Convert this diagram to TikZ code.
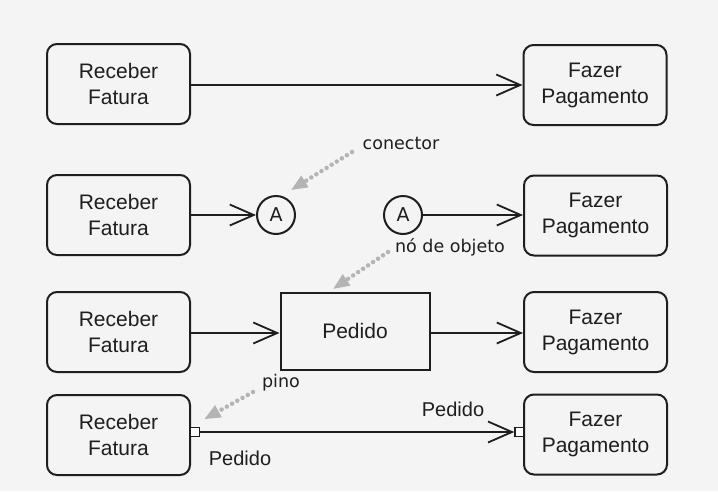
\documentclass[tikz,border=0pt]{standalone}
\usepackage{fontspec}
\setmainfont{Liberation Sans}
\newfontfamily\comic{DejaVu Sans}
\usetikzlibrary{arrows.meta}
\definecolor{bg}{RGB}{244,244,244}
\definecolor{hint}{RGB}{180,180,180}
\definecolor{ink}{RGB}{30,30,30}
\begin{document}
\begin{tikzpicture}[x=1pt,y=-1pt,
  act/.style={draw=ink, line width=2pt, rounded corners=10pt, minimum width=143pt,
    minimum height=80pt, inner sep=0pt, align=center, text=ink,
    font=\fontsize{21}{26}\selectfont},
  objbox/.style={draw=ink, line width=2pt, minimum width=149pt, minimum height=77pt,
    inner sep=0pt, text=ink, font=\fontsize{21}{26}\selectfont},
  conn/.style={circle, draw=ink, line width=2pt, minimum size=38pt, inner sep=0pt,
    text=ink, font=\comic\fontsize{19}{20}\selectfont},
  pin/.style={draw=ink, fill=white, line width=1.5pt, minimum size=9pt, inner sep=0pt},
  flow/.style={draw=ink, line width=1.8pt,
    -{Straight Barb[length=24pt,width=21pt,line width=1.8pt]}},
  hintlbl/.style={text=ink, font=\comic\fontsize{17.5}{19}\selectfont, inner sep=0pt},
  plain/.style={text=ink, font=\fontsize{20}{24}\selectfont, inner sep=0pt},
  hintarrow/.style={draw=hint, line width=4.5pt, line cap=round,
    dash pattern=on 0pt off 6pt, shorten >=4pt,
    -{Triangle[length=16pt,width=14pt,fill=hint,line width=0pt]}}
]
\fill[bg] (0,0) rectangle (718,491);
\useasboundingbox (0,0) rectangle (718,491);

% row 1
\node[act] (r1) at (118.5,84) {Receber\\Fatura};
\node[act] (f1) at (595,85) {Fazer\\Pagamento};
\draw[flow] (r1.east |- 0,85) -- (f1.west |- 0,85);

% row 2
\node[act] (r2) at (118.5,215) {Receber\\Fatura};
\node[act] (f2) at (595.5,215.5) {Fazer\\Pagamento};
\node[conn] (a1) at (276,215) {A};
\node[conn] (a2) at (403,215) {A};
\draw[flow] (r2.east |- a1) -- (a1);
\draw[flow] (a2) -- (f2.west |- a2);

% row 3
\node[act] (r3) at (118.5,332) {Receber\\Fatura};
\node[objbox] (ped) at (355,331) {Pedido};
\node[act] (f3) at (595.5,332) {Fazer\\Pagamento};
\draw[flow] (r3.east |- 0,333) -- (ped.west |- 0,333);
\draw[flow] (ped.east |- 0,333) -- (f3.west |- 0,333);

% row 4
\node[act] (r4) at (118.5,435) {Receber\\Fatura};
\node[act] (f4) at (595.5,434.5) {Fazer\\Pagamento};
\node[pin] (p1) at (195,432) {};
\node[pin] (p2) at (519.5,432) {};
\draw[flow] (p1) -- (p2);
\node[plain] (lp2) at (453,409) {Pedido};
\node[plain] (lp1) at (240,458) {Pedido};

% hint labels
\node[hintlbl] (lcon) at (401,143) {conector};
\node[hintlbl] (lobj) at (450,247) {nó de objeto};
\node[hintlbl] (lpin) at (281,383) {pino};
\coordinate (s1) at (352,152);
\coordinate (t1) at (288,192);
\coordinate (s2) at (388,252);
\coordinate (t2) at (330,291);
\coordinate (s3) at (253,392);
\coordinate (t3) at (201,421);
\draw[hintarrow] (s1) -- (t1);
\draw[hintarrow] (s2) -- (t2);
\draw[hintarrow] (s3) -- (t3);
\end{tikzpicture}
\end{document}
